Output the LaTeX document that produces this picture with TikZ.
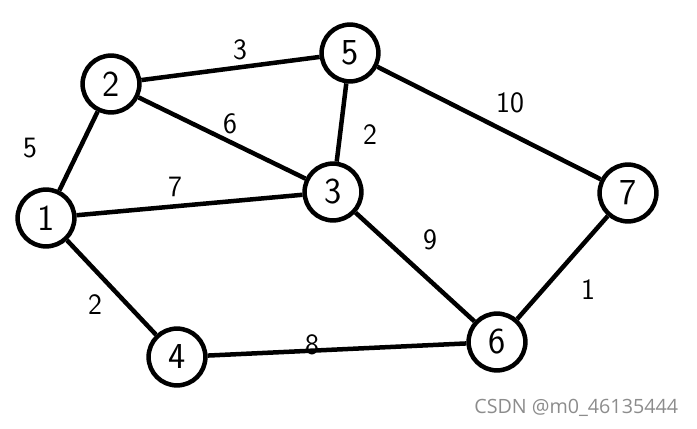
\documentclass[tikz,border=0pt]{standalone}
\usepackage{fontspec}
\newfontfamily\wmfont{Open Sans}
\usetikzlibrary{positioning}
\begin{document}
\begin{tikzpicture}[x=0.025cm,y=-0.025cm,
    vertex/.style={circle,draw,line width=3.2pt,minimum size=1.42cm,inner sep=0pt,
      font=\sffamily\fontsize{26}{28}\selectfont},
    wlabel/.style={font=\sffamily\fontsize{21}{23}\selectfont},
    link/.style={line width=3.2pt}]
    \useasboundingbox (0,0) rectangle (697,428);
    \foreach \id/\x/\y in {1/46/218,2/111/84,5/350/53,3/333/192,7/628/193,4/177/357,6/497/342}
      \node[vertex] (v\id) at (\x,\y) {\id};
    \foreach \a/\b/\w/\x/\y in {
      1/2/5/30/148, 2/5/3/240/50, 2/3/6/230/124, 5/3/2/370/135,
      1/3/7/175/187, 5/7/10/510/103, 3/6/9/430/240, 7/6/1/588/290,
      1/4/2/95/305, 4/6/8/312/345}{
      \draw[link] (v\a) -- (v\b);
      \node[wlabel] (w\a\b) at (\x,\y) {\w};
    }
    \node[anchor=east,text=black!45,font=\wmfont\fontsize{14}{16}\selectfont] (mark) at (683,408) {CSDN @m0\_46135444};
  \end{tikzpicture}
\end{document}
